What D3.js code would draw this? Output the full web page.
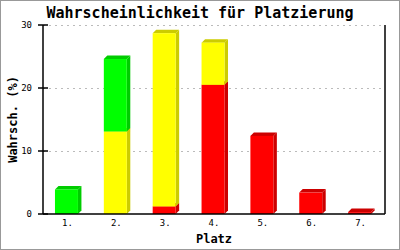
<!DOCTYPE html>
<html>
<head>
<meta charset="utf-8">
<script src="https://cdn.jsdelivr.net/npm/d3@7"></script>
<style>
  body { margin: 0; background: #fff; }
  text { font-family: "DejaVu Sans Mono", monospace; }
</style>
</head>
<body>
<svg id="chart" width="400" height="250"></svg>
<script>
let categories = ["1.", "2.", "3.", "4.", "5.", "6.", "7."];
// stacked from bottom: red, yellow, green
let redValues = [0, 0, 1.2, 20.5, 12.4, 3.4, 0.3];
let yellowValues = [0, 13.1, 27.5, 6.7, 0, 0, 0];
let greenValues = [3.9, 11.5, 0, 0, 0, 0, 0];
let yTicks = [0, 10, 20, 30];

let seriesNames = ["rot", "gelb", "gruen"];
let frontColors = { rot: "#ff0000", gelb: "#ffff00", gruen: "#00ff00" };
let sideColors = { rot: "#cc0000", gelb: "#cccc00", gruen: "#00cc00" };

let width = 400, height = 250;
let margin = { left: 43, right: 15, top: 25, bottom: 36 };
let depth = 3.5;

let svg = d3.select("#chart");

let data = categories.map((c, i) => ({
    cat: c, rot: redValues[i], gelb: yellowValues[i], gruen: greenValues[i]
}));

let stack = d3.stack().keys(seriesNames);
let layers = stack(data);

let x = d3.scaleBand().domain(categories).range([margin.left, width - margin.right]).padding(0);
let y = d3.scaleLinear().domain([0, 30]).range([height - margin.bottom, margin.top]);

let barWidth = x.bandwidth() * 0.47;
let barOffset = x.bandwidth() * 0.245;

// outer frame
svg.append("rect")
    .attr("x", 0.5).attr("y", 0.5)
    .attr("width", width - 1).attr("height", height - 1)
    .attr("fill", "#fff").attr("stroke", "#999");

// grid
svg.append("g").selectAll("line").data(yTicks.filter(t => t > 0)).enter()
    .append("line")
    .attr("x1", margin.left).attr("x2", width - margin.right)
    .attr("y1", d => Math.round(y(d)) + 0.5).attr("y2", d => Math.round(y(d)) + 0.5)
    .attr("stroke", "#bbb")
    .attr("stroke-dasharray", "2,4");

// bars
layers.forEach(layer => {
    let key = layer.key;
    let g = svg.append("g");
    layer.forEach((d, i) => {
        if (d[1] - d[0] <= 0) return;
        let x0 = x(d.data.cat) + barOffset;
        let x1 = x0 + barWidth;
        let yb = y(d[0]);
        let yt = y(d[1]);
        // side
        g.append("polygon")
            .attr("points", [[x1, yb], [x1 + depth, yb - depth], [x1 + depth, yt - depth], [x1, yt]].join(" "))
            .attr("fill", sideColors[key]);
        // top
        g.append("polygon")
            .attr("points", [[x0, yt], [x0 + depth, yt - depth], [x1 + depth, yt - depth], [x1, yt]].join(" "))
            .attr("fill", sideColors[key]);
        // front
        g.append("rect")
            .attr("x", x0).attr("y", yt)
            .attr("width", barWidth).attr("height", yb - yt)
            .attr("fill", frontColors[key]);
    });
});

// axes lines
let axisG = svg.append("g").attr("stroke", "#000").attr("stroke-width", 1.5);
axisG.append("line")
    .attr("x1", margin.left).attr("x2", margin.left)
    .attr("y1", y(30)).attr("y2", y(0));
axisG.append("line")
    .attr("x1", width - margin.right).attr("x2", width - margin.right)
    .attr("y1", y(30)).attr("y2", y(0));
axisG.append("line")
    .attr("x1", margin.left).attr("x2", width - margin.right)
    .attr("y1", y(0)).attr("y2", y(0));

// y ticks
let tickG = svg.append("g");
yTicks.forEach(t => {
    tickG.append("line")
        .attr("x1", margin.left - 5).attr("x2", margin.left + 5)
        .attr("y1", y(t)).attr("y2", y(t))
        .attr("stroke", "#000").attr("stroke-width", 1.5);
    tickG.append("text")
        .attr("x", margin.left - 11).attr("y", y(t) + 3)
        .attr("text-anchor", "end")
        .attr("font-size", 9)
        .text(t);
});

// x labels
categories.forEach(c => {
    svg.append("text")
        .attr("x", x(c) + barOffset + barWidth / 2 + 1)
        .attr("y", y(0) + 12)
        .attr("text-anchor", "middle")
        .attr("font-size", 9)
        .text(c);
});

// titles
svg.append("text")
    .attr("x", 200).attr("y", 18)
    .attr("text-anchor", "middle")
    .attr("font-size", 15).attr("font-weight", "bold")
    .text("Wahrscheinlichkeit für Platzierung");

svg.append("text")
    .attr("x", (margin.left + width - margin.right) / 2).attr("y", 243)
    .attr("text-anchor", "middle")
    .attr("font-size", 12).attr("font-weight", "bold")
    .text("Platz");

svg.append("text")
    .attr("transform", "translate(17," + ((y(0) + y(30)) / 2) + ") rotate(-90)")
    .attr("text-anchor", "middle")
    .attr("font-size", 12).attr("font-weight", "bold")
    .text("Wahrsch. (%)");
</script>
</body>
</html>
